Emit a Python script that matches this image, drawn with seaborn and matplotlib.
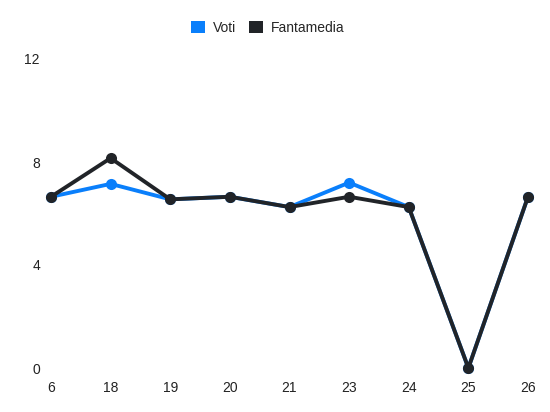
import matplotlib
matplotlib.use("Agg")
import matplotlib.pyplot as plt
from matplotlib.patches import Patch
import seaborn as sns
import pandas as pd

giornate = ["6", "18", "19", "20", "21", "23", "24", "25", "26"]
voti = [6.65, 7.15, 6.55, 6.65, 6.25, 7.2, 6.25, 0, 6.65]
fantamedia = [6.65, 8.15, 6.55, 6.65, 6.25, 6.65, 6.25, 0, 6.65]
y_ticks = [0, 4, 8, 12]

colori = {"Voti": "#0a7ffb", "Fantamedia": "#212428"}

df = pd.DataFrame({
    "pos": list(range(len(giornate))) * 2,
    "valore": voti + fantamedia,
    "serie": ["Voti"] * len(voti) + ["Fantamedia"] * len(fantamedia),
})

sns.set_style("white")
plt.rcParams["font.family"] = ["Liberation Sans", "DejaVu Sans"]

fig = plt.figure(figsize=(5.5, 4.12), dpi=100)
ax = fig.add_axes([51 / 550, 44 / 412, 477 / 550, 309 / 412])

sns.lineplot(data=df, x="pos", y="valore", hue="serie", palette=colori,
             hue_order=["Voti", "Fantamedia"], marker="o", markersize=8,
             markeredgewidth=0, linewidth=2.8, ax=ax, legend=False,
             clip_on=False)

ax.set_xlim(0, len(giornate) - 1)
ax.set_ylim(0, 12)
ax.set_xticks(range(len(giornate)))
ax.set_xticklabels(giornate)
ax.set_yticks(y_ticks)
ax.set_xlabel("")
ax.set_ylabel("")
ax.tick_params(axis="x", length=0, pad=9, labelsize=10, colors="#222222")
ax.tick_params(axis="y", length=0, pad=8, labelsize=10, colors="#222222")
sns.despine(ax=ax, left=True, bottom=True)
ax.grid(False)

handles = [Patch(facecolor=colori[k], edgecolor="none", label=k) for k in ["Voti", "Fantamedia"]]
fig.legend(handles=handles, loc="center", bbox_to_anchor=(268 / 550, 1 - 28 / 412),
           ncol=2, frameon=False, fontsize=10, handlelength=1.0, handleheight=1.0,
           handletextpad=0.6, columnspacing=0.9)

fig.savefig("out.png", dpi=100)
